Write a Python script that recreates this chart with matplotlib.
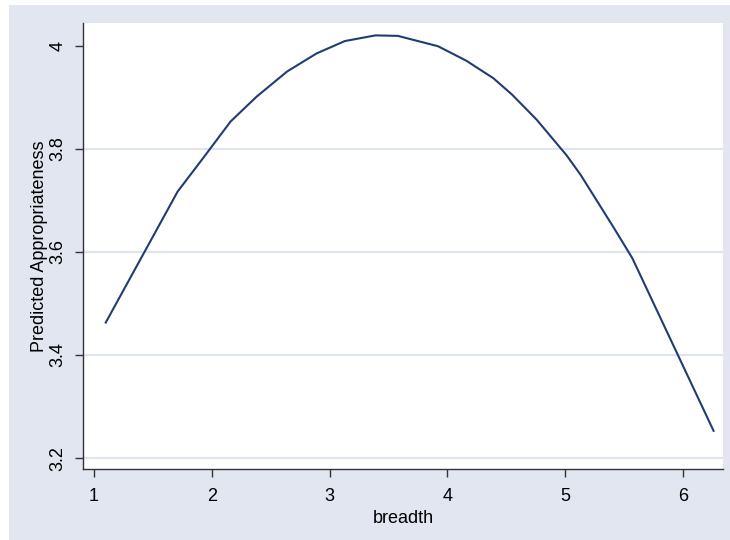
import matplotlib
matplotlib.use("Agg")
import matplotlib.pyplot as plt
from matplotlib.patches import Rectangle

breadth = [1.10, 1.71, 1.93, 2.16, 2.38, 2.64, 2.89, 3.13, 3.39, 3.58,
           3.92, 4.16, 4.39, 4.55, 4.76, 5.01, 5.13, 5.41, 5.57, 6.26]
predicted = [3.463, 3.717, 3.783, 3.853, 3.901, 3.950, 3.985, 4.009, 4.020, 4.019,
             3.999, 3.971, 3.937, 3.905, 3.856, 3.788, 3.750, 3.648, 3.588, 3.253]
xticks = [1, 2, 3, 4, 5, 6]
yticks = [3.2, 3.4, 3.6, 3.8, 4.0]
ytick_labels = ["3.2", "3.4", "3.6", "3.8", "4"]
grid_levels = [3.2, 3.4, 3.6, 3.8]

plt.rcParams['font.family'] = ['Liberation Sans', 'DejaVu Sans']

W, H = 730, 540
fig = plt.figure(figsize=(W / 100, H / 100), dpi=100)
fig.patch.set_facecolor('white')
bg = '#e1e6f0'
fig.patches.append(Rectangle((9 / W, 0), 1 - 9 / W, 1 - 5 / H, transform=fig.transFigure,
                             facecolor=bg, edgecolor='none', zorder=-10))

left, right, top, bottom = 83, 723, 23, 469
ax = fig.add_axes([left / W, (H - bottom) / H, (right - left) / W, (bottom - top) / H])
ax.set_facecolor('white')

for g in grid_levels:
    ax.axhline(g, color='#dfe4ef', linewidth=1.6, zorder=1)

ax.plot(breadth, predicted, color='#1f3d73', linewidth=1.5, zorder=3)

ax.set_xlim(0.907, 6.34)
ax.set_ylim(3.179, 4.044)
ax.set_xticks(xticks)
ax.set_xticklabels([str(t) for t in xticks])
ax.set_yticks(yticks)
ax.set_yticklabels(ytick_labels, rotation=90, va='center')

for s in ['top', 'right']:
    ax.spines[s].set_visible(False)
for s in ['left', 'bottom']:
    ax.spines[s].set_color('#333333')
    ax.spines[s].set_linewidth(1.0)

ax.tick_params(axis='both', length=6, width=1.0, color='#333333', labelsize=13,
               labelcolor='black')
ax.tick_params(axis='x', pad=8)
ax.tick_params(axis='y', pad=6)

ax.set_xlabel('breadth', fontsize=13, labelpad=3)
ax.set_ylabel('Predicted Appropriateness', fontsize=13, labelpad=1)

fig.savefig('out.png', dpi=100, facecolor=fig.get_facecolor())
